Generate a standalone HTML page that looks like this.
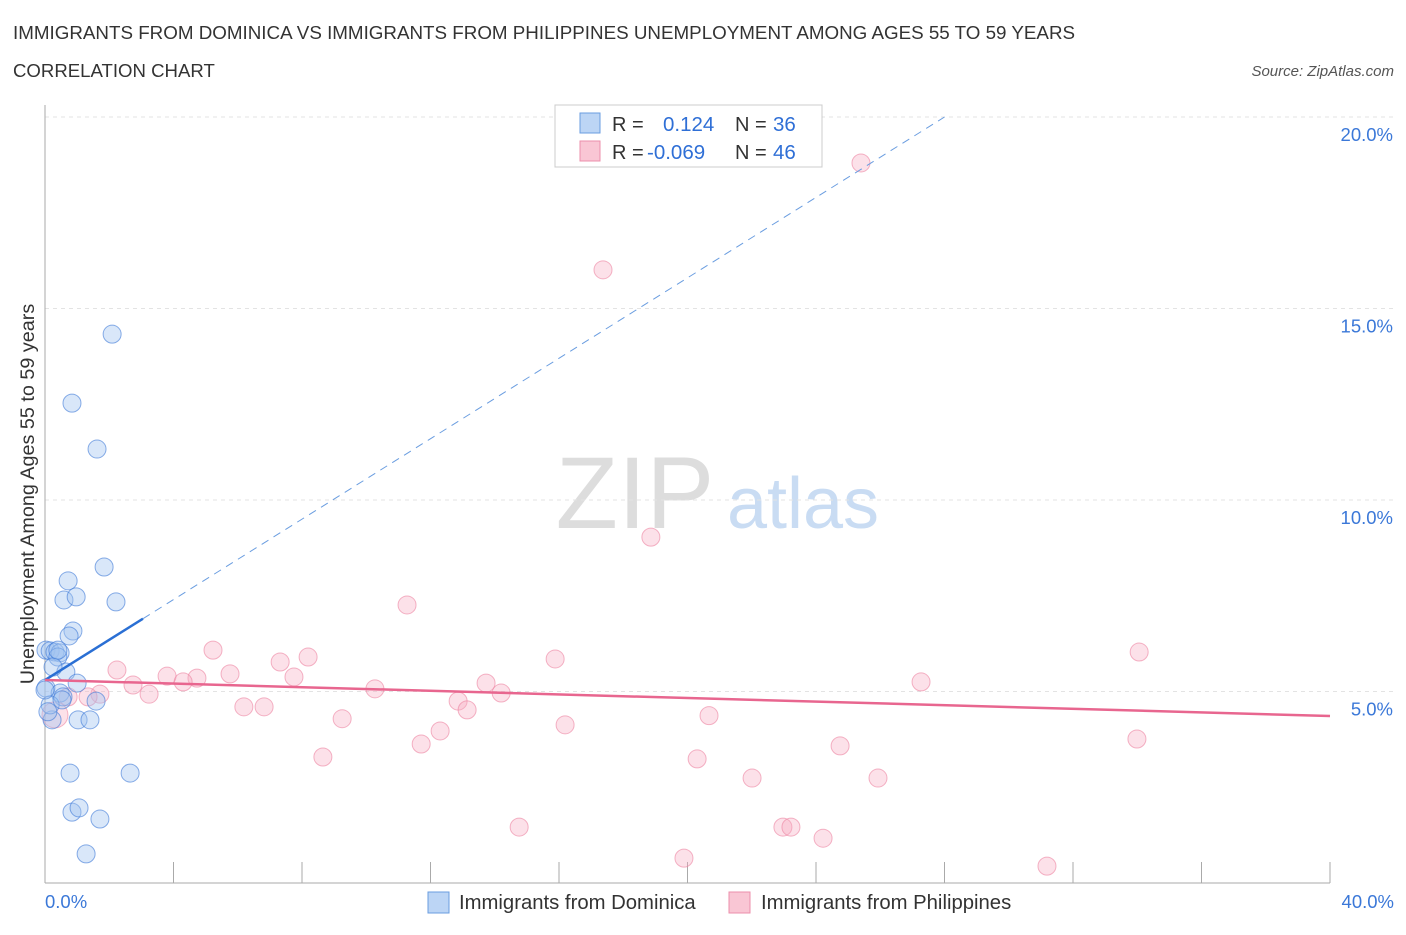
<!DOCTYPE html>
<html><head><meta charset="utf-8">
<style>
body{margin:0;background:#fff;font-family:"Liberation Sans",sans-serif;}
svg text{font-family:"Liberation Sans",sans-serif;}
</style></head>
<body>
<svg id="chart" width="1406" height="930" viewBox="0 0 1406 930">
<text x="13" y="39" font-size="18.8" fill="#333">IMMIGRANTS FROM DOMINICA VS IMMIGRANTS FROM PHILIPPINES UNEMPLOYMENT AMONG AGES 55 TO 59 YEARS</text>
<text x="13" y="77" font-size="18.6" fill="#333">CORRELATION CHART</text>
<text x="1394" y="76" font-size="15" fill="#555" font-style="italic" text-anchor="end">Source: ZipAtlas.com</text>
<text x="635" y="528" font-size="102" fill="#ddd" font-family="Liberation Serif" text-anchor="middle">ZIP</text>
<text x="803" y="528" font-size="72" fill="#c9dcf3" text-anchor="middle">atlas</text>
<g id="grid"></g>
<g id="axes"></g>
<g id="marks"></g>
<text transform="translate(34,494) rotate(-90)" font-size="19.8" fill="#333" text-anchor="middle">Unemployment Among Ages 55 to 59 years</text>
<g>
<rect x="555" y="105" width="267" height="62" fill="#fff" stroke="#ccc"/>
<rect x="580" y="113" width="20" height="20" fill="#bcd5f5" stroke="#6a9de0"/>
<rect x="580" y="141" width="20" height="20" fill="#f9c6d4" stroke="#ec8fab"/>
<text x="612" y="131" font-size="20" fill="#333">R = </text><text x="663" y="131" font-size="20.5" fill="#2f6fd6">0.124</text>
<text x="735" y="131" font-size="20" fill="#333">N = </text><text x="773" y="131" font-size="20.5" fill="#2f6fd6">36</text>
<text x="612" y="159" font-size="20" fill="#333">R = </text><text x="647" y="159" font-size="20.5" fill="#2f6fd6">-0.069</text>
<text x="735" y="159" font-size="20" fill="#333">N = </text><text x="773" y="159" font-size="20.5" fill="#2f6fd6">46</text>
</g>
<g>
<rect x="428" y="892" width="21" height="21" fill="#bcd5f5" stroke="#6a9de0"/>
<text x="459" y="909" font-size="20.3" fill="#333">Immigrants from Dominica</text>
<rect x="729" y="892" width="21" height="21" fill="#f9c6d4" stroke="#ec8fab"/>
<text x="761" y="909" font-size="20.3" fill="#333">Immigrants from Philippines</text>
</g>
</svg>
<script>
const yTicks=[5,10,15,20];
const yTickLabels=["5.0%","10.0%","15.0%","20.0%"];
const xTickLabels=["0.0%","40.0%"];
const domX=[2.09,0.84,1.62,1.84,0.72,0.59,0.97,2.21,0.87,0.75,0.03,0.16,0.31,0.47,0.40,0.65,0.25,1.00,0.03,0.47,1.59,0.56,0.22,1.03,1.40,0.78,2.65,0.84,1.06,1.71,1.28,0.16,0.53,0.0,0.09,0.40];
const domY=[14.33,12.53,11.33,8.25,7.89,7.39,7.47,7.34,6.58,6.45,6.08,6.06,6.03,6.01,5.90,5.51,5.64,5.22,5.09,4.96,4.75,4.86,4.26,4.26,4.26,2.87,2.87,1.85,1.96,1.67,0.76,4.65,4.78,5.04,4.47,6.08];
const phiX=[25.40,17.37,18.86,11.27,34.06,5.23,8.19,7.32,15.88,2.24,3.80,4.73,5.76,4.30,7.75,2.74,3.24,1.71,10.27,13.73,27.27,14.20,12.86,13.14,6.19,6.82,9.25,20.67,16.19,12.30,11.71,24.75,33.99,8.65,20.30,22.01,25.93,14.76,22.97,23.22,24.22,19.89,31.19,0.31,0.72,1.34];
const phiY=[18.80,16.01,9.03,7.26,6.03,6.08,5.90,5.77,5.85,5.56,5.40,5.35,5.46,5.25,5.38,5.17,4.93,4.93,5.07,5.22,5.25,4.96,4.75,4.52,4.60,4.60,4.29,4.37,4.13,3.97,3.63,3.58,3.76,3.29,3.24,2.74,2.74,1.46,1.46,1.46,1.17,0.65,0.44,4.39,4.86,4.86];
const domTrend=[5.30,0.525];
const phiTrend=[5.30,-0.0235];
const NS="http://www.w3.org/2000/svg";
const X=v=>45+v/40*1285;
const Y=v=>883-v/5*191.5;
function mk(parent,tag,attrs){const e=document.createElementNS(NS,tag);for(const k in attrs)e.setAttribute(k,attrs[k]);document.getElementById(parent).appendChild(e);return e;}
yTicks.forEach((t,i)=>{
 let l=mk('grid','line',{x1:45,x2:1394,y1:Y(t),y2:Y(t),stroke:'#e3e3e3','stroke-dasharray':'4,4'});
 
 
 let tx=mk('axes','text',{x:1393,y:Y(t)+24,'font-size':18.5,fill:'#3b78d8','text-anchor':'end'});
 tx.textContent=yTickLabels[i];
 
 
});
let ax=mk('axes','line',{x1:45,x2:45,y1:105,y2:883,stroke:'#aaa'});


let bx=mk('axes','line',{x1:45,x2:1330,y1:883,y2:883,stroke:'#aaa'});


for(let i=1;i<=10;i++){let t=mk('axes','line',{x1:X(i*4),x2:X(i*4),y1:862,y2:883,stroke:'#aaa'});
 
 }
[[0,'start',45],[40,'end',1394]].forEach((d,i)=>{let t=mk('axes','text',{x:d[2],y:908,'font-size':18.5,fill:'#3b78d8','text-anchor':d[1]});t.textContent=xTickLabels[i];
 
 });
phiX.forEach((x,i)=>{let c=mk('marks','circle',{cx:X(x),cy:Y(phiY[i]),r:i==43?13:9,fill:'rgba(246,170,192,0.35)',stroke:'rgba(236,130,160,0.6)','stroke-width':1});
 
 });
domX.forEach((x,i)=>{let c=mk('marks','circle',{cx:X(x),cy:Y(domY[i]),r:9,fill:'rgba(160,196,240,0.4)',stroke:'rgba(60,120,215,0.6)','stroke-width':1});
 
 });
let xs=3.05, xe=(20-domTrend[0])/domTrend[1];
let d1=mk('marks','line',{x1:X(0),y1:Y(domTrend[0]),x2:X(xs),y2:Y(domTrend[0]+domTrend[1]*xs),stroke:'#2a6fd4','stroke-width':2.5});


let d2=mk('marks','line',{x1:X(xs),y1:Y(domTrend[0]+domTrend[1]*xs),x2:X(xe),y2:Y(20),stroke:'#6a9de0','stroke-width':1,'stroke-dasharray':'8,6'});


let p1=mk('marks','line',{x1:X(0),y1:Y(phiTrend[0]),x2:X(40),y2:Y(phiTrend[0]+phiTrend[1]*40),stroke:'#e8668f','stroke-width':2.5});


</script>
</body></html>
